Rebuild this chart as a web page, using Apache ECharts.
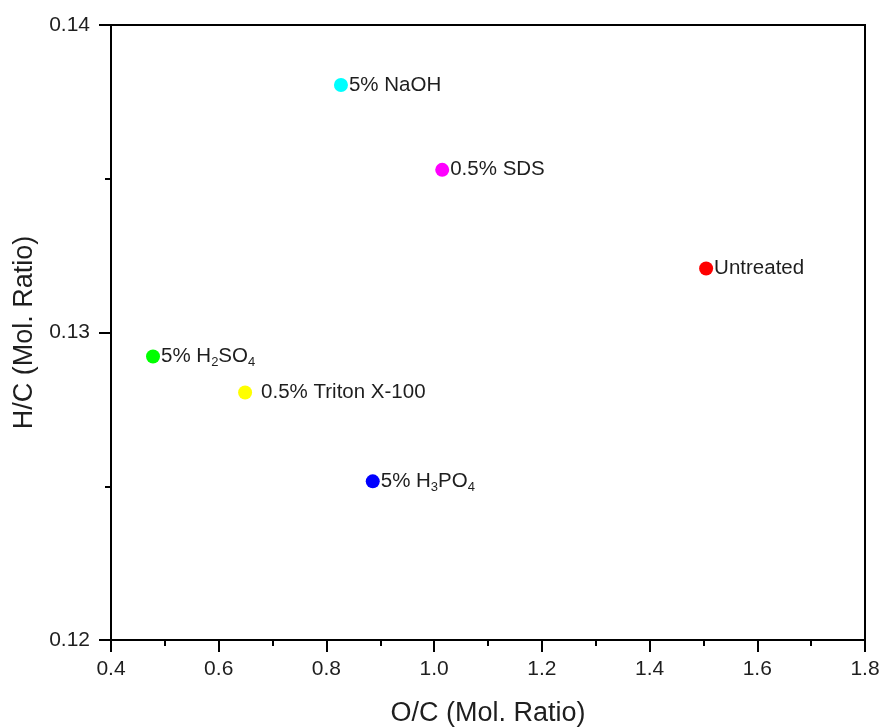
<!DOCTYPE html>
<html>
<head>
<meta charset="utf-8">
<script src="https://cdn.jsdelivr.net/npm/echarts@6/dist/echarts.min.js"></script>
<style>
  html, body { margin: 0; padding: 0; background: #fff; }
  #chart { width: 881px; height: 727px; }
</style>
</head>
<body>
<div id="chart"></div>
<script>
// Treatment names (rich-text markup for subscripts)
const treatments = ['5% NaOH', '0.5% SDS', 'Untreated', '5% H{sub|2}SO{sub|4}', '0.5% Triton X-100', '5% H{sub|3}PO{sub|4}'];
// O/C molar ratio
const ocRatio = [0.827, 1.015, 1.505, 0.478, 0.649, 0.886];
// H/C molar ratio
const hcRatio = [0.13805, 0.13529, 0.13208, 0.12922, 0.12805, 0.12516];
const pointColors = ['#00FFFF', '#FF00FF', '#FF0000', '#00FF00', '#FFFF00', '#0000FF'];
const labelGap = [1, 1, 1, 1, 9, 1];

const xTicks = [0.4, 0.6, 0.8, 1.0, 1.2, 1.4, 1.6, 1.8];
const yTicks = [0.12, 0.13, 0.14];

const fontFamily = '"Liberation Sans", Arial, sans-serif';
const textColor = '#1e1e1e';

const data = treatments.map((name, i) => ({
  value: [ocRatio[i], hcRatio[i]],
  name: name,
  itemStyle: { color: pointColors[i], opacity: 1 },
  label: { distance: labelGap[i] }
}));

const axisCommon = {
  axisLine: { show: true, onZero: false, lineStyle: { color: '#000', width: 2 } },
  axisTick: { show: true, inside: false, length: 12, lineStyle: { color: '#000', width: 2 } },
  minorTick: { show: true, splitNumber: 2, length: 6, lineStyle: { color: '#000', width: 2 } },
  splitLine: { show: false }
};

const chart = echarts.init(document.getElementById('chart'));
chart.setOption({
  backgroundColor: '#ffffff',
  animation: false,
  grid: {
    left: 111, right: 16, top: 25, bottom: 87,
    containLabel: false, outerBoundsMode: 'none',
    show: true, borderColor: '#000', borderWidth: 2, backgroundColor: 'transparent'
  },
  xAxis: Object.assign({
    type: 'value',
    min: 0.4, max: 1.8, interval: 0.2,
    name: 'O/C (Mol. Ratio)',
    nameLocation: 'middle', nameGap: 60,
    nameTextStyle: { fontSize: 27, color: textColor, fontFamily },
    axisLabel: {
      fontSize: 21, color: textColor, fontFamily, margin: 19,
      formatter: v => (xTicks.find(t => Math.abs(t - v) < 1e-9) ?? v).toFixed(1)
    }
  }, axisCommon),
  yAxis: Object.assign({
    type: 'value',
    min: 0.12, max: 0.14, interval: 0.01,
    name: 'H/C (Mol. Ratio)',
    nameLocation: 'middle', nameGap: 72,
    nameTextStyle: { fontSize: 27, color: textColor, fontFamily },
    axisLabel: {
      fontSize: 21, color: textColor, fontFamily, margin: 21,
      formatter: v => (yTicks.find(t => Math.abs(t - v) < 1e-9) ?? v).toFixed(2)
    }
  }, axisCommon),
  series: [{
    type: 'scatter',
    symbol: 'circle',
    symbolSize: 14,
    data: data,
    emphasis: { disabled: true },
    label: {
      show: true,
      position: 'right',
      formatter: p => p.name,
      fontSize: 20.5,
      color: textColor,
      fontFamily,
      rich: {
        sub: { fontSize: 13, fontFamily, color: textColor, padding: [12, 0, 0, 0] }
      }
    }
  }]
});
</script>
</body>
</html>
